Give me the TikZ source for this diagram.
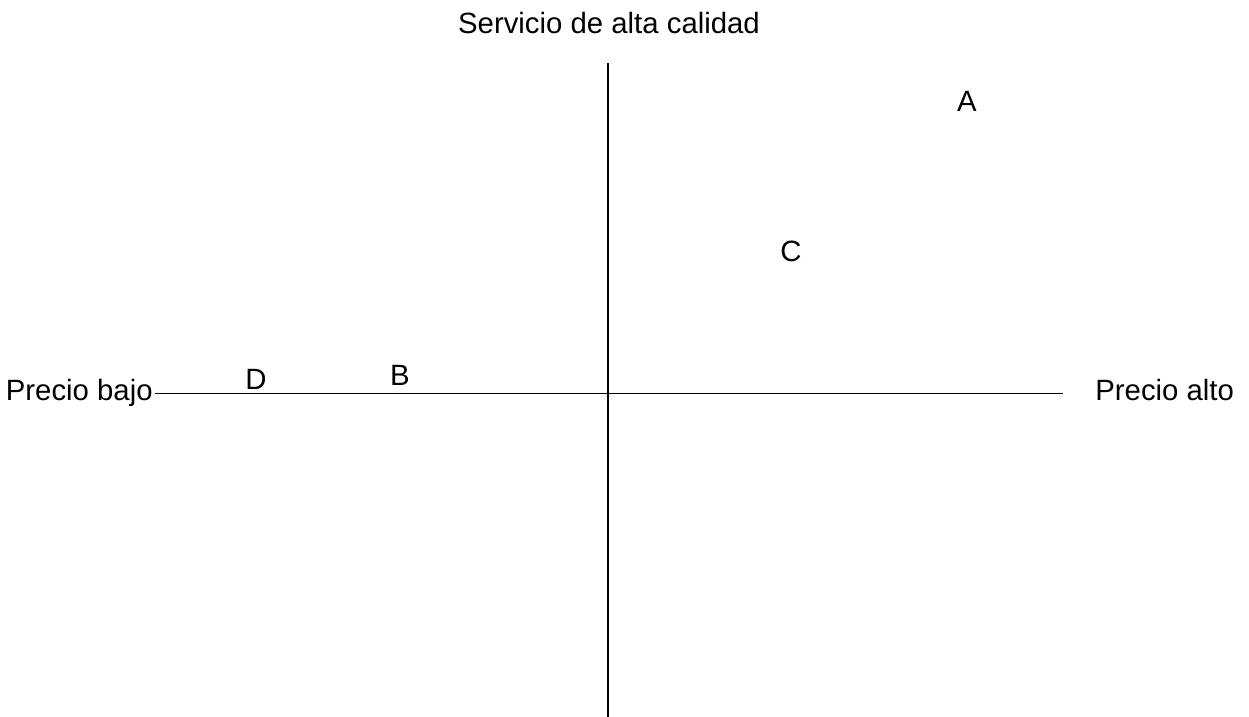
\documentclass[tikz,border=0pt]{standalone}
\usepackage{fontspec}
\setmainfont{Liberation Sans}
\tikzset{
	etiqueta/.style={inner sep=0pt, font=\fontsize{16.7}{19}\selectfont},
}
\begin{document}
\begin{tikzpicture}[x=0.02cm,y=-0.02cm]
				\useasboundingbox (0,0) rectangle (1249,717);
				%--
				\coordinate (arriba) at (608,63);
				\coordinate (abajo) at (608,717);
				\coordinate (izq) at (155,393);
				\coordinate (der) at (1063,393);
				\draw[line width=1.1pt] (arriba) -- (abajo);
				\draw[line width=0.5pt] (izq) -- (der);
				%--
				\node[etiqueta, anchor=base] (calidad) at (609,33) {Servicio de alta calidad};
				\node[etiqueta, anchor=base east] (bajo) at (153,400) {Precio bajo};
				\node[etiqueta, anchor=base west] (alto) at (1095,400) {Precio alto};
				%--
				\node[etiqueta, anchor=base] (A) at (967,111) {A};
				\node[etiqueta, anchor=base] (C) at (791,261) {C};
				\node[etiqueta, anchor=base] (D) at (256,389) {D};
				\node[etiqueta, anchor=base] (B) at (400,385) {B};
			\end{tikzpicture}
\end{document}
